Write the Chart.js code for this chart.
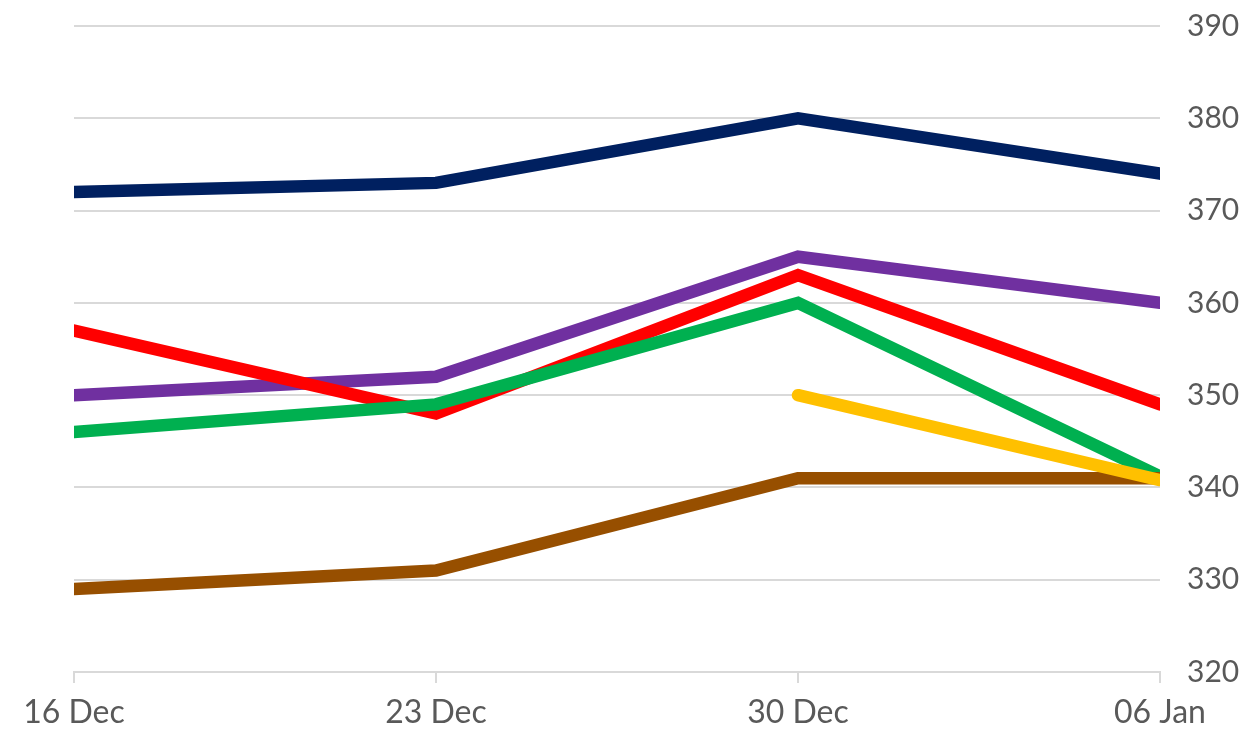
<!DOCTYPE html>
<html>
<head>
<meta charset="utf-8">
<script src="https://cdn.jsdelivr.net/npm/chart.js@4"></script>
<style>
  html, body { margin: 0; padding: 0; background: #fff; }
  #wrap { width: 1249px; height: 729px; }
</style>
</head>
<body>
<div id="wrap"><canvas id="chart"></canvas></div>
<script>
// 类别和各条线的数值
const labels = ['16 Dec', '23 Dec', '30 Dec', '06 Jan'];
const navyData = [372, 373, 380, 374];
const purpleData = [350, 352, 365, 360];
const redData = [357, 348, 363, 349];
const greenData = [346, 349, 360, 341.2];
const yellowData = [null, null, 350, 340.8];
const brownData = [329, 331, 341, 341];
const yTicks = [320, 330, 340, 350, 360, 370, 380, 390];

const tickColor = '#595959';
const gridColor = '#d9d9d9';
const fontFamily = "'Lato', 'Noto Sans', sans-serif";

function line(data, color, order) {
  return {
    data: data,
    borderColor: color,
    backgroundColor: color,
    borderWidth: 12.5,
    pointRadius: 0,
    tension: 0,
    borderCapStyle: 'round',
    borderJoinStyle: 'miter',
    spanGaps: false,
    clip: { left: 0, right: 0, top: 10, bottom: 10 },
    order: order
  };
}

new Chart(document.getElementById('chart').getContext('2d'), {
  type: 'line',
  data: {
    labels: labels,
    datasets: [
      line(navyData, '#002060', 6),
      line(purpleData, '#7030A0', 5),
      line(redData, '#FF0000', 4),
      line(greenData, '#00B050', 3),
      line(brownData, '#974F00', 2),
      line(yellowData, '#FFC000', 1)
    ]
  },
  options: {
    responsive: true,
    maintainAspectRatio: false,
    animation: false,
    layout: { padding: 0 },
    plugins: {
      legend: { display: false },
      tooltip: { enabled: false }
    },
    scales: {
      x: {
        offset: false,
        grid: {
          drawOnChartArea: false,
          drawTicks: true,
          tickLength: 11,
          color: gridColor,
          lineWidth: 2
        },
        border: { display: true, color: gridColor, width: 2 },
        ticks: {
          color: tickColor,
          font: { family: fontFamily, size: 32 },
          padding: 10,
          maxRotation: 0
        },
        afterFit: function(scale) {
          scale.height = 57;
          scale.paddingLeft = 74;
          scale.paddingRight = 0;
        }
      },
      y: {
        position: 'right',
        min: 320,
        max: 390,
        afterBuildTicks: function(scale) {
          scale.ticks = yTicks.map(v => ({ value: v }));
        },
        grid: {
          drawTicks: false,
          color: gridColor,
          lineWidth: 2
        },
        border: { display: false },
        ticks: {
          color: tickColor,
          font: { family: fontFamily, size: 30 },
          padding: 27
        },
        afterFit: function(scale) {
          scale.width = 89;
          scale.paddingTop = 26;
          scale.paddingBottom = 0;
        }
      }
    }
  }
});
</script>
</body>
</html>
